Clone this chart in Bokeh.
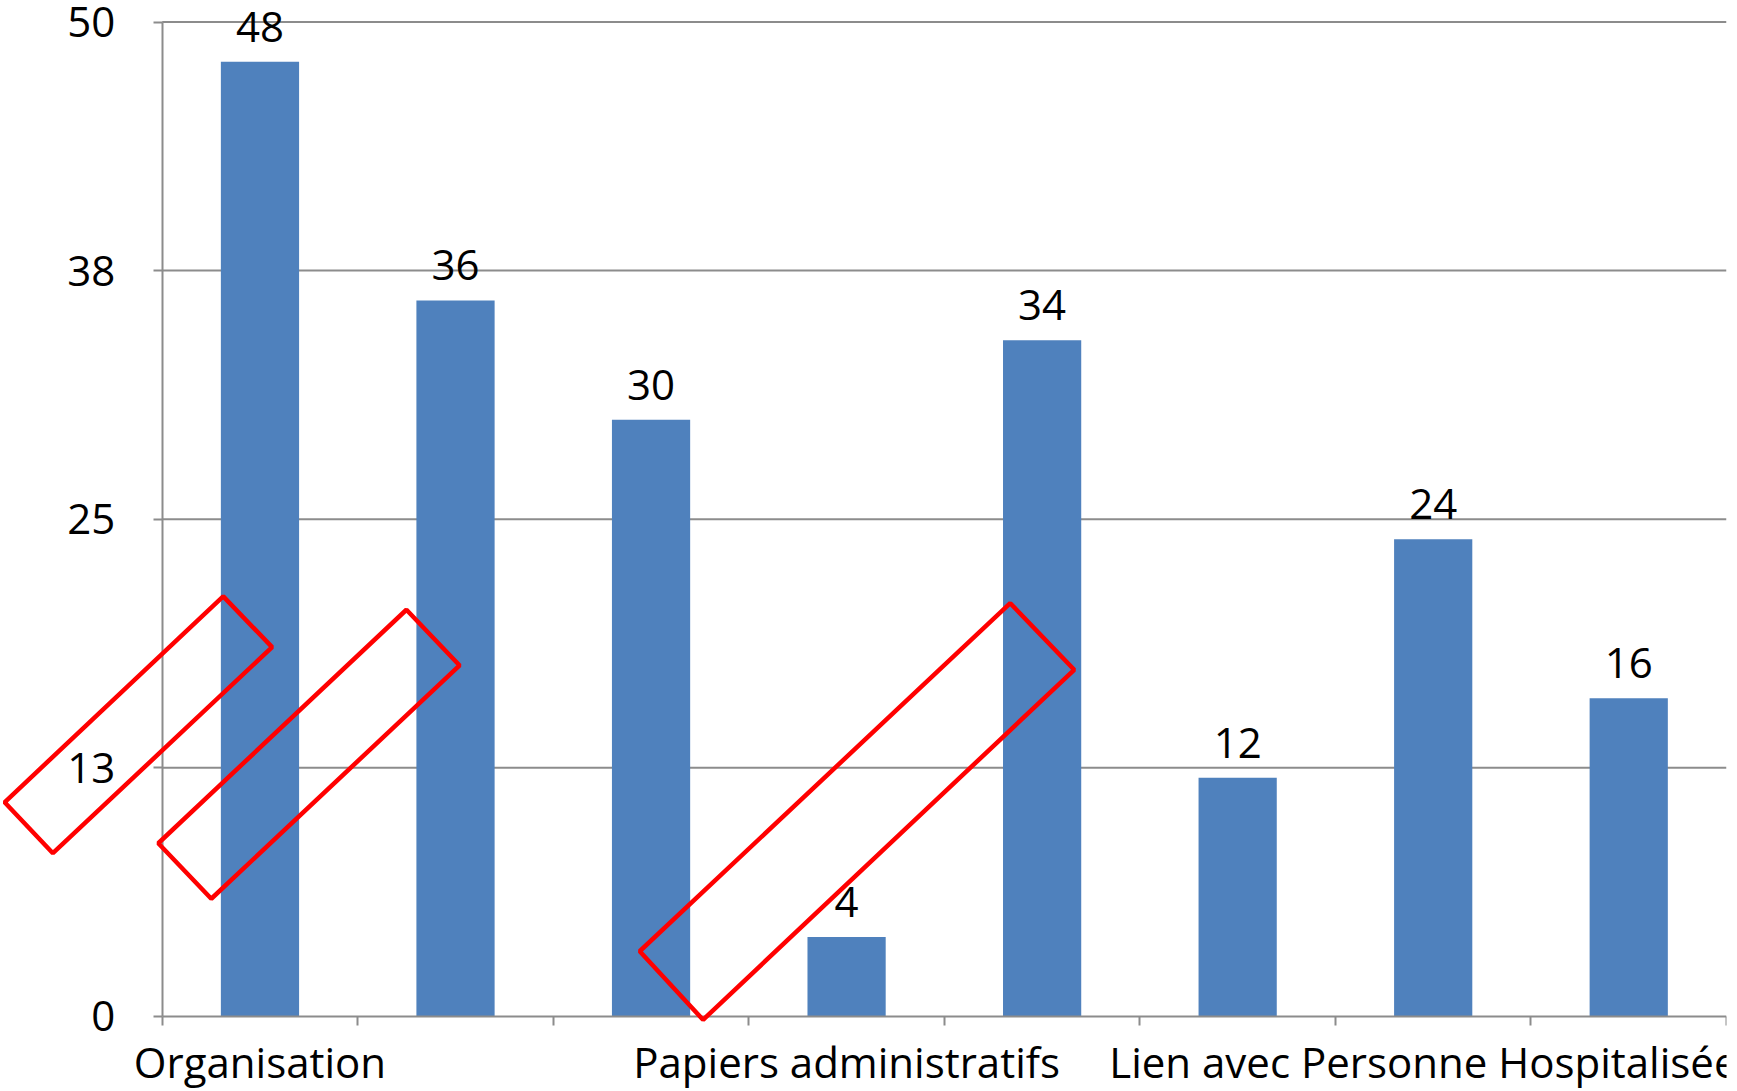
from bokeh.plotting import figure
from bokeh.models import Range1d, FixedTicker, ColumnDataSource, PolyAnnotation
from bokeh.core.properties import value
from bokeh.embed import file_html
from bokeh.resources import INLINE

categories = ["Organisation", "", "", "Papiers administratifs", "", "", "Lien avec Personne Hospitalisée", ""]
values = [48, 36, 30, 4, 34, 12, 24, 16]
y_ticks = [0, 12.5, 25, 37.5, 50]
y_tick_labels = ["0", "13", "25", "38", "50"]
shown_label_idx = [0, 3, 6]

# red highlight outlines (annotations), corners in data units
highlight_xs = [
    [-0.188, 0.062, -1.059, -1.306],
    [0.749, 1.021, -0.249, -0.520],
    [3.837, 4.164, 2.266, 1.942],
]
highlight_ys = [
    [21.12, 18.57, 8.21, 10.77],
    [20.45, 17.65, 5.92, 8.71],
    [20.78, 17.43, -0.166, 3.28],
]

FONT = "Open Sans"
GRAY = "#8c8c8c"
LABEL_GAP = 1.76  # gap between bar top and value label anchor (data units)

n = len(values)
xs = list(range(n))
src = ColumnDataSource(dict(x=xs, top=values, ly=[v + LABEL_GAP for v in values],
                            lab=[str(v) for v in values]))

p = figure(width=1737, height=1091, output_backend="svg", toolbar_location=None,
           x_range=Range1d(-1.327, n - 0.5), y_range=Range1d(-3.771, 51.081),
           min_border_left=0, min_border_right=11, min_border_top=0, min_border_bottom=0)
p.outline_line_color = None
p.background_fill_color = "white"
p.border_fill_color = "white"

# horizontal gridlines, limited to the plotting area
grid_levels = y_ticks[1:]
p.segment(x0=[-0.5] * len(grid_levels), x1=[n - 0.5] * len(grid_levels),
          y0=grid_levels, y1=grid_levels, line_color=GRAY, line_width=2)

p.vbar(x="x", top="top", width=0.40, bottom=0, source=src, color="#4F81BD", line_color=None)
p.text(x="x", y="ly", text="lab", source=src, text_align="center", text_baseline="alphabetic",
       text_font=value(FONT), text_font_size="42px", text_color="black")

# y axis
p.yaxis.fixed_location = -0.5
p.yaxis.bounds = (0, 50)
p.yaxis.ticker = FixedTicker(ticks=y_ticks, minor_ticks=[])
p.yaxis.major_label_overrides = {t: l for t, l in zip(y_ticks, y_tick_labels)}
p.yaxis.major_label_text_font = FONT
p.yaxis.major_label_text_font_size = "42px"
p.yaxis.major_label_text_color = "black"
p.yaxis.major_label_standoff = 38
p.yaxis.major_tick_out = 9
p.yaxis.major_tick_in = 0
p.yaxis.major_tick_line_color = GRAY
p.yaxis.major_tick_line_width = 2
p.yaxis.axis_line_color = GRAY
p.yaxis.axis_line_width = 2

# x axis
p.xaxis.fixed_location = 0
p.xaxis.bounds = (-0.5, n - 0.5)
p.xaxis.ticker = FixedTicker(ticks=shown_label_idx,
                             minor_ticks=[i - 0.5 for i in range(n + 1)])
p.xaxis.major_label_overrides = {i: categories[i] for i in shown_label_idx}
p.xaxis.major_label_text_font = FONT
p.xaxis.major_label_text_font_size = "42px"
p.xaxis.major_label_text_color = "black"
p.xaxis.major_label_standoff = 8
p.xaxis.major_tick_out = 0
p.xaxis.major_tick_in = 0
p.xaxis.minor_tick_out = 9
p.xaxis.minor_tick_in = 0
p.xaxis.minor_tick_line_color = GRAY
p.xaxis.minor_tick_line_width = 2
p.xaxis.axis_line_color = GRAY
p.xaxis.axis_line_width = 2

p.xgrid.grid_line_color = None
p.ygrid.grid_line_color = None

for hx, hy in zip(highlight_xs, highlight_ys):
    p.add_layout(PolyAnnotation(xs=hx, ys=hy, fill_color=None, fill_alpha=0,
                                line_color="#FF0000", line_alpha=1.0, line_width=4.5))

open("out.html", "w").write(file_html(p, INLINE))
